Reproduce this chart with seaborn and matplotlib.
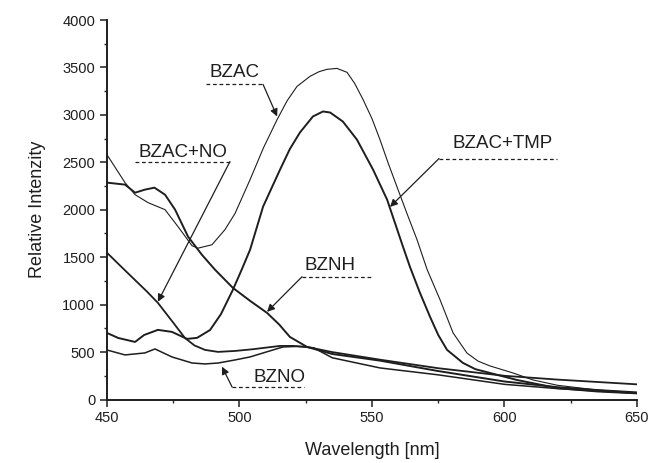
import matplotlib
matplotlib.use("Agg")
import matplotlib.pyplot as plt
import seaborn as sns
import pandas as pd

# ---- data ----
bzac_wl = [450, 456.8, 460.6, 465.5, 471.9, 476.8, 482.1, 484.3, 489.6, 494.5, 498.3, 504, 509,
           514.2, 518, 521.7, 526.6, 530, 533, 536.8, 540.6, 543.5, 546.6, 550, 553, 556, 559.4,
           563.2, 567, 570.8, 575.7, 580.6, 585.8, 590, 594.5, 603.2, 610.8, 620, 635, 650]
bzac_y = [2580, 2286, 2159, 2075, 2001, 1822, 1621, 1595, 1631, 1790, 1960, 2318, 2650,
          2951, 3150, 3300, 3406, 3455, 3480, 3490, 3448, 3330, 3163, 2960, 2740, 2500, 2244,
          1960, 1684, 1370, 1050, 702, 491, 405, 354, 280, 206, 150, 100, 72]

tmp_wl = [450, 454.2, 460.6, 464, 469.2, 474.5, 480.2, 484, 488.9, 493, 497.5, 501, 504, 508.9,
          515.3, 519, 522.8, 527.7, 531.5, 534.2, 539, 544.3, 550.4, 555.7, 561.7, 564.3, 568.1,
          571.9, 575, 578.3, 584.3, 589, 594.5, 604.7, 620, 635, 650]
tmp_y = [702, 649, 607, 680, 734, 713, 639, 650, 733, 900, 1156, 1380, 1579, 2033,
         2423, 2640, 2814, 2983, 3036, 3025, 2930, 2740, 2423, 2107, 1610, 1400, 1124,
         872, 680, 524, 386, 320, 280, 206, 120, 85, 65]

no_wl = [450, 455, 460, 465, 469.2, 475, 479.4, 483, 487, 491.9, 498.3, 505, 515.3, 520,
         525.5, 535, 553, 575, 600, 620, 635, 650]
no_y = [1547, 1410, 1275, 1140, 1019, 810, 649, 570, 523, 502, 512, 530, 565, 565,
        554, 500, 420, 330, 250, 210, 185, 160]

bznh_wl = [450, 456.8, 460.6, 464.3, 467.9, 471.9, 475.7, 480.6, 485.8, 490.8, 497.5, 504,
           510.4, 515, 519, 525.5, 535, 553, 575, 600, 620, 635, 650]
bznh_y = [2286, 2265, 2180, 2212, 2233, 2159, 2001, 1716, 1526, 1367, 1177, 1040,
          913, 790, 660, 554, 480, 410, 300, 190, 130, 100, 75]

bzno_wl = [450, 456.8, 464.3, 468.1, 474.5, 482.1, 487, 492, 498.3, 504, 510, 516.4, 522,
           528, 535, 553, 575, 600, 620, 635, 650]
bzno_y = [522, 470, 491, 533, 449, 385, 375, 385, 417, 449, 500, 554, 560,
          545, 440, 333, 260, 160, 115, 90, 65]

x_ticks = [450, 500, 550, 600, 650]
y_ticks = [0, 500, 1000, 1500, 2000, 2500, 3000, 3500, 4000]

series = [
    ("BZAC", bzac_wl, bzac_y, 0.8),
    ("BZAC+TMP", tmp_wl, tmp_y, 1.4),
    ("BZAC+NO", no_wl, no_y, 1.3),
    ("BZNH", bznh_wl, bznh_y, 1.4),
    ("BZNO", bzno_wl, bzno_y, 1.1),
]

sns.set_style("ticks")
plt.rcParams['font.family'] = ['Liberation Sans', 'DejaVu Sans']

fig = plt.figure(figsize=(6.5, 4.63), dpi=100)
ax = fig.add_axes([0.1646, 0.1371, 0.8154, 0.8197])

ink = "#1e1e1e"
for name, wl, yv, lw in series:
    df = pd.DataFrame({"wl": wl, "y": yv})
    sns.lineplot(data=df, x="wl", y="y", ax=ax, color=ink, lw=lw, estimator=None, sort=False)

ax.set_xlim(450, 650)
ax.set_ylim(0, 4000)
ax.set_xticks(x_ticks)
ax.set_yticks(y_ticks)
ax.set_xticks([475, 525, 575, 625], minor=True)
ax.set_yticks([250, 750, 1250, 1750, 2250, 2750, 3250, 3750], minor=True)
ax.tick_params(axis="both", which="major", direction="out", length=5, width=1.1,
               labelsize=10.5, colors=ink)
ax.tick_params(axis="both", which="minor", direction="out", length=2.5, width=1.0)
for s in ["top", "right"]:
    ax.spines[s].set_visible(False)
for s in ["left", "bottom"]:
    ax.spines[s].set_linewidth(1.4)
    ax.spines[s].set_color(ink)

ax.set_xlabel("Wavelength [nm]", fontsize=13, color=ink, labelpad=12)
ax.set_ylabel("Relative Intenzity", fontsize=13, color=ink, labelpad=12)

# annotations: label text, dashed underline, arrow
annots = [
    ("BZAC", 498.3, 3394, (487.4, 508.9), 3321, (508.9, 3321), (514.2, 2983)),
    ("BZAC+NO", 478.5, 2561, (460.6, 496.4), 2508, (496.4, 2508), (469.2, 1030)),
    ("BZAC+TMP", 599.4, 2655, (575.3, 619.8), 2540, (575.3, 2540), (556.8, 2030)),
    ("BZNH", 534.2, 1367, (523.6, 550.4), 1294, (523.6, 1294), (510.4, 924)),
    ("BZNO", 515.1, 185, (497.2, 524.3), 132, (497.2, 132), (493.4, 346)),
]
for text, tx, ty, (ux0, ux1), uy, start, end in annots:
    ax.text(tx, ty, text, ha="center", va="baseline", fontsize=13.5, color=ink)
    ax.plot([ux0, ux1], [uy, uy], ls=(0, (3, 2.2)), lw=0.9, color=ink)
    ax.annotate("", xy=end, xytext=start,
                arrowprops=dict(arrowstyle="-|>", lw=0.9, color=ink,
                                mutation_scale=11, shrinkA=0, shrinkB=0))

fig.savefig("out.png", dpi=100)
